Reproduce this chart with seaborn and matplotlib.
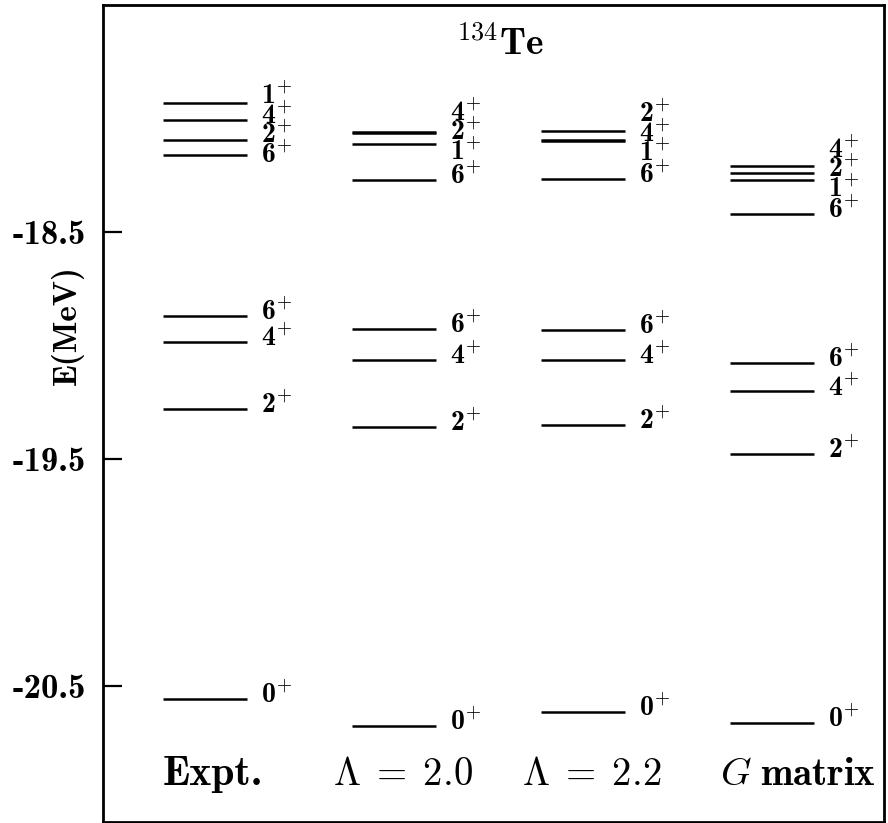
import numpy as np
import pandas as pd
import seaborn as sns
import matplotlib
matplotlib.use("Agg")
import matplotlib.pyplot as plt

sns.set_theme(style="white")
plt.rcParams["mathtext.fontset"] = "cm"

# level energies (MeV) and spins
columns = ["Expt.", r"$\Lambda\;=\;2.0$", r"$\Lambda\;=\;2.2$", r"$G\;\mathbf{matrix}$"]

expt_E = [-17.930, -18.005, -18.096, -18.162, -18.869, -18.983, -19.280, -20.557]
expt_J = ["1", "4", "2", "6", "6", "4", "2", "0"]

lam20_E = [-18.058, -18.064, -18.112, -18.271, -18.927, -19.063, -19.359, -20.676]
lam20_J = ["4", "2", "1", "6", "6", "4", "2", "0"]

lam22_E = [-18.054, -18.097, -18.101, -18.265, -18.930, -19.064, -19.349, -20.616]
lam22_J = ["2", "4", "1", "6", "6", "4", "2", "0"]

gmat_E = [-18.209, -18.239, -18.271, -18.422, -19.076, -19.203, -19.479, -20.664]
gmat_J = ["4", "2", "1", "6", "6", "4", "2", "0"]

yticks = [-18.5, -19.5, -20.5]

rows = []
for i, (E, J) in enumerate([(expt_E, expt_J), (lam20_E, lam20_J),
                            (lam22_E, lam22_J), (gmat_E, gmat_J)]):
    for e, j in zip(E, J):
        rows.append({"col": i, "E": e, "J": j})
df = pd.DataFrame(rows)


def spread(vals, gap):
    # push labels apart so they don't overlap, keep groups centred
    order = sorted(range(len(vals)), key=lambda k: -vals[k])
    groups = [[vals[k]] for k in order]
    idx = [[k] for k in order]
    while True:
        merged = False
        ng, ni = [groups[0]], [idx[0]]
        for g, ii in zip(groups[1:], idx[1:]):
            p = ng[-1]
            pbot = np.mean(p) - gap * (len(p) - 1) / 2
            gtop = np.mean(g) + gap * (len(g) - 1) / 2
            if pbot - gtop < gap:
                ng[-1] = p + g
                ni[-1] = ni[-1] + ii
                merged = True
            else:
                ng.append(g)
                ni.append(ii)
        groups, idx = ng, ni
        if not merged:
            break
    out = [0.0] * len(vals)
    for g, ii in zip(groups, idx):
        c = np.mean(g)
        for n, k in enumerate(ii):
            out[k] = c + gap * ((len(g) - 1) / 2 - n)
    return out


fig = plt.figure(figsize=(8.88, 8.23), dpi=100)
ax = fig.add_axes([103 / 888, 1 / 823, 781 / 888, 817 / 823])

hw = 0.222
ax.hlines(df["E"], df["col"] - hw, df["col"] + hw, color="black", lw=1.8)

for c in range(4):
    sub = df[df["col"] == c]
    ly = spread(list(sub["E"]), 0.086)
    for j, y in zip(sub["J"], ly):
        ax.text(c + hw + 0.075, y + 0.015, j + r"$^{+}$", family="cmb10",
                fontsize=20, ha="left", va="center", color="black")

label_x = [0.04, 1.05, 2.05, 3.14]
label_fs = [30, 28, 28, 28]
for c, (name, x, fs) in enumerate(zip(columns, label_x, label_fs)):
    if c == 0:
        ax.text(x, -20.89, name, fontsize=fs, family="cmb10",
                ha="center", va="center", color="black")
    else:
        ax.text(x, -20.89, name, fontsize=fs, ha="center", va="center",
                color="black")

ax.text(0.508, 0.951, r"$^{134}\mathbf{Te}$", transform=ax.transAxes,
        fontsize=27, ha="center", va="center", color="black")
ax.text(-0.045, 0.608, "E(MeV)", transform=ax.transAxes, rotation=90,
        family="cmb10", fontsize=24, ha="center", va="center", color="black")

ax.set_xlim(-0.54, 3.595)
ax.set_ylim(-21.1, -17.5)
ax.set_xticks([])
ax.set_yticks(yticks)
ax.set_yticklabels(["%.1f" % t for t in yticks], family="cmb10", fontsize=25)
ax.tick_params(axis="y", direction="in", length=14, width=1.6, pad=12,
               left=True, right=False, colors="black")
for s in ax.spines.values():
    s.set_visible(True)
    s.set_color("black")
    s.set_linewidth(2)

fig.savefig("out.png", dpi=100, facecolor="white")
